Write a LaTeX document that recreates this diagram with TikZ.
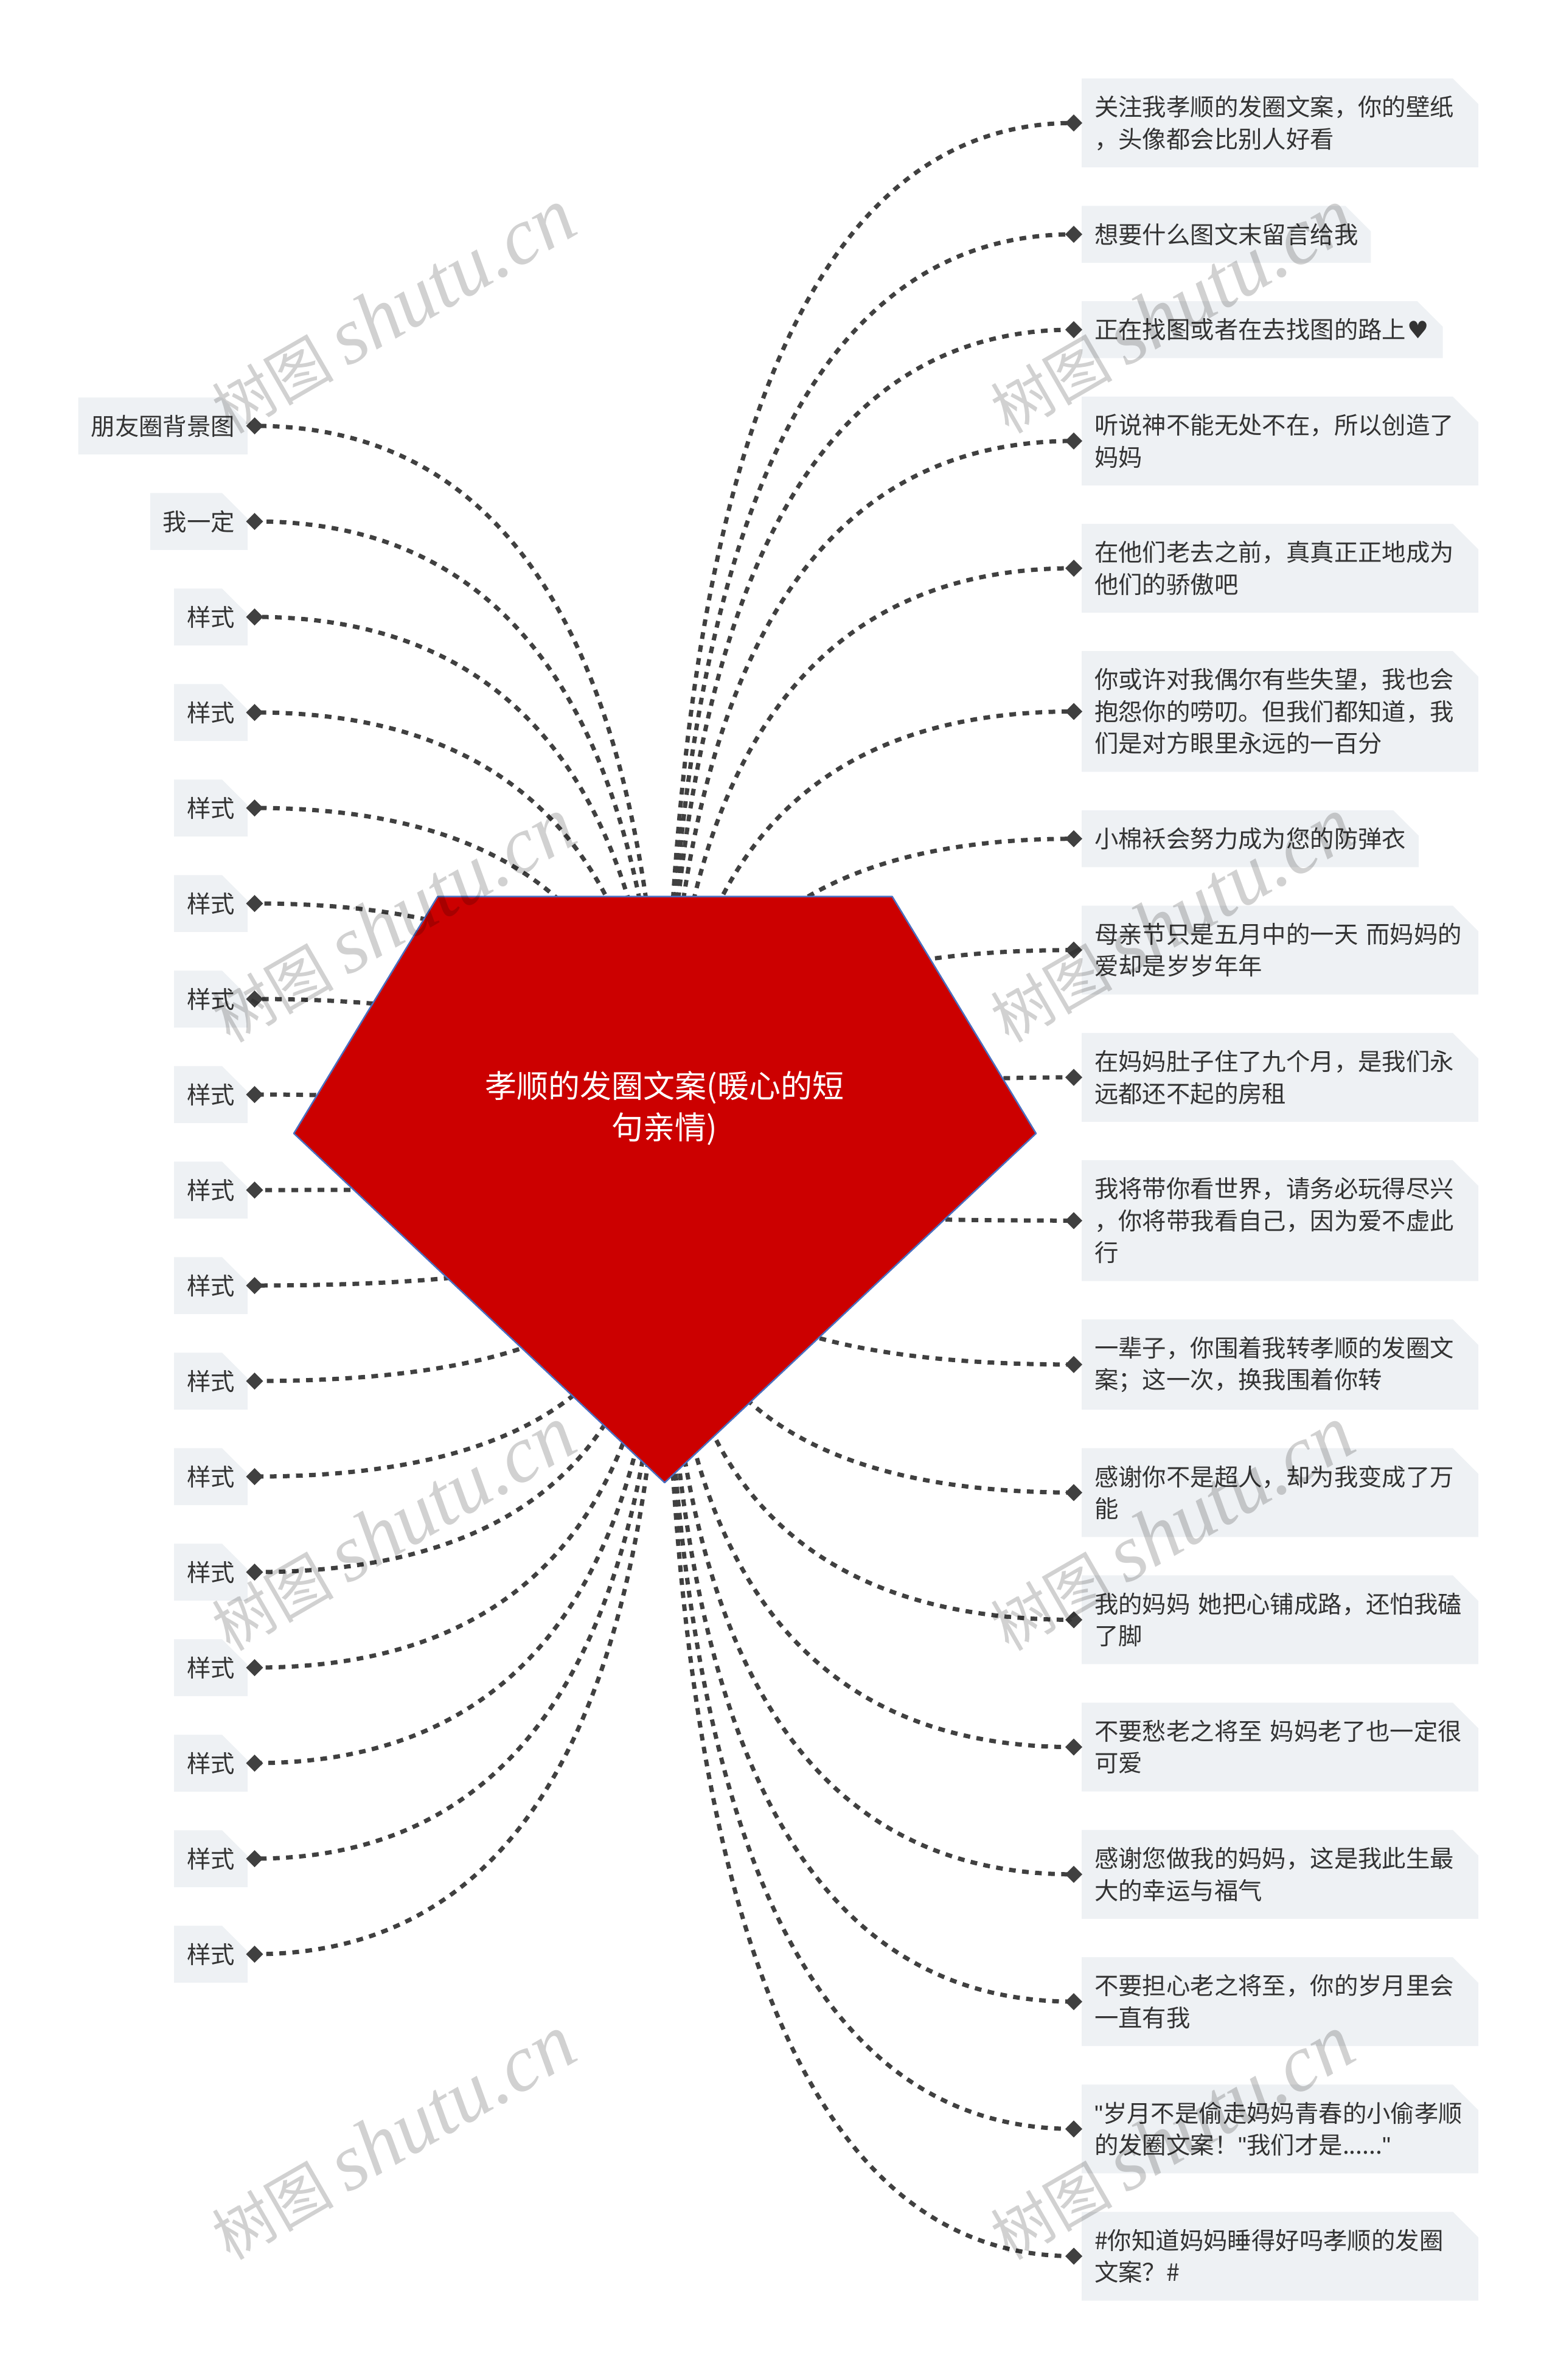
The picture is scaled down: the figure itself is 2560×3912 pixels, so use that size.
\documentclass[tikz,border=0pt]{standalone}
\usepackage{fontspec}
\setmainfont{Noto Sans CJK SC}
\newfontfamily\symfont{DejaVu Sans}
\newfontfamily\wmfont{Liberation Serif}
\newfontfamily\quotefont[Ligatures=NoCommon]{Liberation Sans}
\usetikzlibrary{positioning,calc,shapes.misc,shapes.geometric}
\definecolor{boxfill}{HTML}{EEF1F4}
\definecolor{inkgrey}{HTML}{333333}
\definecolor{linkgrey}{HTML}{404040}
\definecolor{rootred}{HTML}{CC0000}
\definecolor{rootline}{HTML}{4A6FC0}
\newcommand{\linestrut}{\leavevmode\vrule width 0pt height 34pt depth 4pt}
\newcommand{\dq}{{\quotefont\char"0022}}
\tikzset{
  leaf/.style={shape=chamfered rectangle, chamfered rectangle corners=north east,
    chamfered rectangle xsep=21pt, chamfered rectangle ysep=21pt,
    fill=boxfill, text=inkgrey, inner xsep=0pt, inner ysep=6.75pt, outer sep=0pt,
    font=\fontsize{39.4pt}{52.5pt}\selectfont,
    execute at begin node=\linestrut, execute at end node=\linestrut},
  wrapped/.style={leaf, text width=610pt, align=left},
  nextr/.style={below=63.2pt of #1.south west, anchor=north west},
  nextl/.style={below=157pt of #1.east, anchor=east},
  tipmark/.style={shape=diamond, fill=linkgrey, inner sep=0pt, outer sep=0pt, minimum size=28pt},
  link/.style={draw=linkgrey, line width=7pt, dash pattern=on 11pt off 10.5pt},
  rootshape/.style={fill=rootred, draw=rootline, line width=2.5pt, line join=round},
  roottext/.style={text=white, align=center, inner sep=0pt, font=\fontsize{52pt}{68pt}\selectfont},
  wmark/.style={text=black, text opacity=.18, rotate=30, inner sep=0pt, font=\fontsize{100pt}{112pt}\selectfont}
}
\begin{document}
\begin{tikzpicture}[x=1pt,y=-1pt]
\useasboundingbox (0,0) rectangle (2560,3912);
\coordinate (hub) at (1092,1950);

\node[wrapped, anchor=north west] (r1) at (1778,129) {关注我孝顺的发圈文案，你的壁纸\\，头像都会比别人好看};
\node[leaf, nextr=r1] (r2) {想要什么图文末留言给我};
\node[leaf, nextr=r2] (r3) {正在找图或者在去找图的路上\makebox[1em]{\symfont ♥}};
\node[wrapped, nextr=r3] (r4) {听说神不能无处不在，所以创造了\\妈妈};
\node[wrapped, nextr=r4] (r5) {在他们老去之前，真真正正地成为\\他们的骄傲吧};
\node[wrapped, nextr=r5] (r6) {你或许对我偶尔有些失望，我也会\\抱怨你的唠叨。但我们都知道，我\\们是对方眼里永远的一百分};
\node[leaf, nextr=r6] (r7) {小棉袄会努力成为您的防弹衣};
\node[wrapped, nextr=r7] (r8) {母亲节只是五月中的一天 而妈妈的\\爱却是岁岁年年};
\node[wrapped, nextr=r8] (r9) {在妈妈肚子住了九个月，是我们永\\远都还不起的房租};
\node[wrapped, nextr=r9] (r10) {我将带你看世界，请务必玩得尽兴\\，你将带我看自己，因为爱不虚此\\行};
\node[wrapped, nextr=r10] (r11) {一辈子，你围着我转孝顺的发圈文\\案；这一次，换我围着你转};
\node[wrapped, nextr=r11] (r12) {感谢你不是超人，却为我变成了万\\能};
\node[wrapped, nextr=r12] (r13) {我的妈妈 她把心铺成路，还怕我磕\\了脚};
\node[wrapped, nextr=r13] (r14) {不要愁老之将至 妈妈老了也一定很\\可爱};
\node[wrapped, nextr=r14] (r15) {感谢您做我的妈妈，这是我此生最\\大的幸运与福气};
\node[wrapped, nextr=r15] (r16) {不要担心老之将至，你的岁月里会\\一直有我};
\node[wrapped, nextr=r16] (r17) {\dq 岁月不是偷走妈妈青春的小偷孝顺\\的发圈文案！\dq 我们才是......\dq};
\node[wrapped, nextr=r17] (r18) {\#你知道妈妈睡得好吗孝顺的发圈\\文案？\#};

\node[leaf, anchor=east] (l1) at (407,700) {朋友圈背景图};
\node[leaf, nextl=l1] (l2) {我一定};
\foreach \n [evaluate=\n as \p using int(\n-1)] in {3,...,17}
  \node[leaf, nextl=l\p] (l\n) {样式};

\foreach \n in {1,...,18} {
  \node[tipmark, left=-1pt of r\n.west] (tr\n) {};
  \draw[link] (hub) .. controls ($(hub)!2/3!(hub|-tr\n)$) and ($(tr\n)!2/3!(hub|-tr\n)$) .. (tr\n.center);
}
\foreach \n in {1,...,17} {
  \node[tipmark, right=-2.5pt of l\n.east] (tl\n) {};
  \draw[link] (hub) .. controls ($(hub)!2/3!(hub|-tl\n)$) and ($(tl\n)!2/3!(hub|-tl\n)$) .. (tl\n.center);
}

\draw[rootshape] (719.5,1473.5) -- (1466.5,1473.5) -- (1703,1863) -- (1092.5,2437) -- (483,1863) -- cycle;
\node[roottext] (root) at (1092.5,1822) {孝顺的发圈文案(暖心的短\\句亲情)};

\foreach \wy in {512,1513,2513,3514}
  \foreach \wx in {646,1926}
    \node[wmark] (wm\wx-\wy) at (\wx,\wy) {树图 {\wmfont\itshape\fontsize{132pt}{132pt}\selectfont shutu.cn}};
\end{tikzpicture}
\end{document}
